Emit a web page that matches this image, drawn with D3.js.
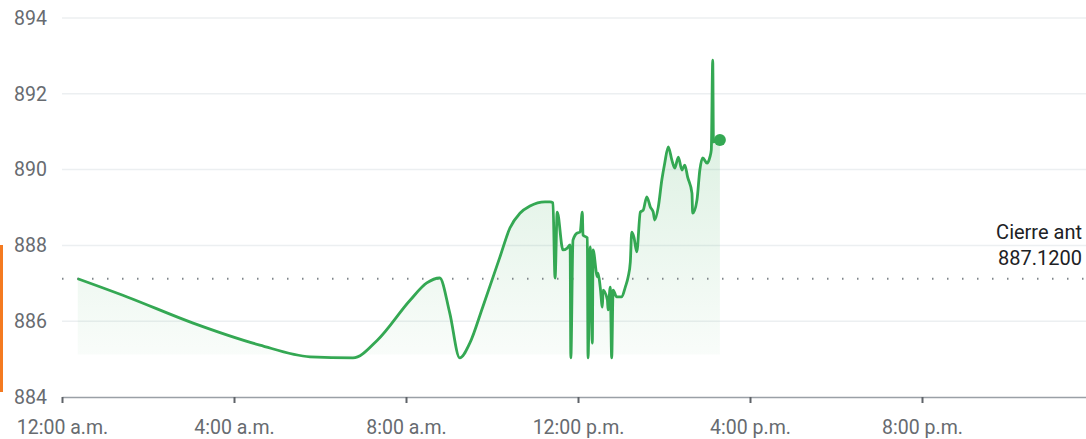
<!DOCTYPE html>
<html>
<head>
<meta charset="utf-8">
<script src="https://d3js.org/d3.v7.min.js"></script>
<style>
  body { margin: 0; background: #fff; }
  #chart { width: 1086px; height: 439px; }
  .ylab text, .xlab text { font-family: Roboto, sans-serif; font-size: 19.5px; fill: #676b70; }
  .note { font-family: Roboto, sans-serif; font-size: 20px; fill: #202124; }
</style>
</head>
<body>
<div id="chart"></div>
<script>
// intraday prices, times as hh:mm
const times = ["00:22","01:31","03:03","04:36","05:46","06:46","07:20","08:06","08:29","08:47",
  "09:01","09:15","09:29","09:47","10:11","10:25","10:39","10:53","11:14","11:21",
  "11:25","11:28","11:31","11:39","11:45","11:49","11:50","11:53","11:59","12:03",
  "12:06","12:07","12:13","12:14","12:17","12:20","12:21","12:27","12:28","12:31",
  "12:34","12:35","12:41","12:42","12:45","12:47","12:49","12:54","13:01","13:06",
  "13:10","13:13","13:15","13:18","13:22","13:27","13:31","13:36","13:41","13:45",
  "13:47","13:52","13:57","14:01","14:06","14:11","14:15","14:20","14:25","14:29",
  "14:33","14:39","14:40","14:46","14:50","14:54","15:00","15:04","15:06","15:08",
  "15:09","15:18"];
const prices = [887.12,886.64,885.95,885.37,885.06,885.03,885.50,886.56,887.01,887.14,
  886.22,885.03,885.42,886.37,887.69,888.46,888.85,889.04,889.15,889.15,
  889.12,887.14,888.88,887.88,887.93,888.01,885.03,888.14,888.33,888.35,
  888.88,888.27,888.20,885.03,887.96,885.42,887.88,887.17,887.27,886.90,
  886.37,886.82,886.56,886.30,886.90,885.03,886.82,886.64,886.64,886.90,
  887.17,887.56,888.35,888.22,887.83,888.88,888.93,889.28,889.01,888.88,
  888.67,889.01,889.73,890.17,890.60,890.25,890.04,890.33,889.99,890.12,
  889.80,889.38,888.85,889.20,889.99,890.31,890.17,890.33,890.52,892.89,
  890.73,890.78];
const prevClose = 887.12;
const yTicks = [884, 886, 888, 890, 892, 894];
const xTickHours = [0, 4, 8, 12, 16, 20];
const xTickLabels = ["12:00 a.m.", "4:00 a.m.", "8:00 a.m.", "12:00 p.m.", "4:00 p.m.", "8:00 p.m."];

const w = 1086, h = 439;
const day = new Date(2024, 0, 1);
const at = s => { const p = s.split(":"); return new Date(2024, 0, 1, +p[0], +p[1]); };
const data = times.map((t, i) => ({ t: at(t), v: prices[i] }));

const svg = d3.select("#chart").append("svg").attr("width", w).attr("height", h);

// side marker
svg.append("rect").attr("x", 0).attr("y", 245).attr("width", 3).attr("height", 147).attr("fill", "#f47a20");

const x = d3.scaleTime().domain([day, new Date(2024, 0, 2)]).range([62, 1094]);
const y = d3.scaleLinear().domain([884, 894]).range([397, 18]);

// gridlines
svg.append("g").selectAll("line").data(yTicks.slice(1)).enter().append("line")
  .attr("x1", 62).attr("x2", w)
  .attr("y1", d => y(d)).attr("y2", d => y(d))
  .attr("stroke", "#eceff1").attr("stroke-width", 1.5);

// y labels
const ya = svg.append("g").attr("class", "ylab").attr("transform", "translate(62,0)")
  .call(d3.axisLeft(y).tickValues(yTicks).tickSize(0).tickPadding(15));
ya.select(".domain").remove();

// area fill
const grad = svg.append("defs").append("linearGradient").attr("id", "fillg")
  .attr("gradientUnits", "userSpaceOnUse").attr("x1", 0).attr("x2", 0)
  .attr("y1", y(890.8)).attr("y2", y(885.1));
grad.append("stop").attr("offset", 0).attr("stop-color", "#34a853").attr("stop-opacity", 0.16);
grad.append("stop").attr("offset", 1).attr("stop-color", "#34a853").attr("stop-opacity", 0.03);

svg.append("path").datum(data)
  .attr("fill", "url(#fillg)")
  .attr("d", d3.area().x(d => x(d.t)).y0(y(885.12)).y1(d => y(d.v)).curve(d3.curveMonotoneX));

// previous close dotted line
svg.append("line")
  .attr("x1", 62).attr("x2", w)
  .attr("y1", y(prevClose)).attr("y2", y(prevClose))
  .attr("stroke", "#80868b").attr("stroke-width", 2)
  .attr("stroke-dasharray", "1.5,13.5");

svg.append("text").attr("class", "note").attr("x", 1082).attr("y", 239)
  .attr("text-anchor", "end").text("Cierre ant");
svg.append("text").attr("class", "note").attr("x", 1082).attr("y", 265)
  .attr("text-anchor", "end").text(prevClose.toFixed(4));

// price line
svg.append("path").datum(data)
  .attr("fill", "none").attr("stroke", "#34a853").attr("stroke-width", 2.8)
  .attr("stroke-linejoin", "round")
  .attr("d", d3.line().x(d => x(d.t)).y(d => y(d.v)).curve(d3.curveMonotoneX));

const last = data[data.length - 1];
svg.append("circle").attr("cx", x(last.t)).attr("cy", y(last.v)).attr("r", 6).attr("fill", "#34a853");

// x axis
const xa = svg.append("g").attr("class", "xlab").attr("transform", "translate(0,397)")
  .call(d3.axisBottom(x)
    .tickValues(xTickHours.map(hh => new Date(2024, 0, 1, hh)))
    .tickFormat((d, i) => xTickLabels[i])
    .tickSize(6).tickSizeOuter(0).tickPadding(17));
xa.select(".domain").attr("stroke", "#9aa0a6").attr("stroke-width", 1.5);
xa.selectAll(".tick line").attr("stroke", "#5f6368").attr("stroke-width", 2);
</script>
</body>
</html>
